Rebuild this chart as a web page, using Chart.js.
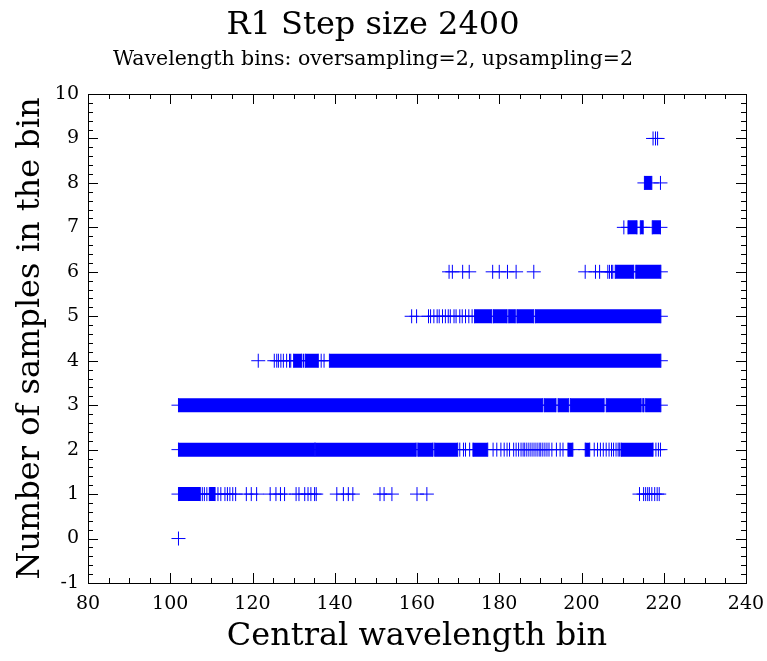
<!DOCTYPE html>
<html>
<head>
<meta charset="utf-8">
<script src="https://cdn.jsdelivr.net/npm/chart.js@4.4.1/dist/chart.umd.min.js"></script>
<style>
  body { margin: 0; background: #fff; }
  #wrap { width: 767px; height: 661px; }
</style>
</head>
<body>
<div id="wrap"><canvas id="binsChart"></canvas></div>
<script>
// x ticks / y ticks
const xTicks = [80, 100, 120, 140, 160, 180, 200, 220, 240];
const yTicks = [-1, 0, 1, 2, 3, 4, 5, 6, 7, 8, 9, 10];

// number of samples per bin (one row per count)
const counts = [0, 1, 2, 3, 4, 5, 6, 7, 8, 9];

// isolated bins
const single0 = [102.0];
const single1 = [107.8, 108.3, 108.9, 111.6, 112.3, 113.3, 113.9, 114.5, 115.2, 115.9,
  118.5, 119.7, 121.0, 124.3, 125.7, 126.8, 127.8, 130.6, 131.3, 132.7, 133.5, 134.2,
  135.1, 135.5, 140.5, 142.1, 143.3, 144.4, 151.0, 152.0, 153.9, 160.0, 162.4,
  214.1, 215.1, 215.6, 216.1, 216.5, 217.1, 217.8, 218.4, 218.9];
const single2 = [170.4, 171.3, 171.8, 172.8, 178.5, 179.4, 180.4, 181.2, 181.9, 182.5,
  183.5, 184.1, 184.7, 185.3, 185.8, 186.2, 186.7, 187.2, 187.7, 188.2, 188.7, 189.2,
  189.7, 190.1, 190.6, 191.1, 191.6, 192.1, 192.8, 193.9, 194.8, 195.5, 203.1, 203.9,
  204.6, 205.3, 206.0, 206.7, 207.3, 207.8, 208.4, 208.9, 209.2, 218.1, 218.7, 219.2];
const single3 = [];
const single4 = [121.4, 125.3, 125.9, 126.3, 126.9, 127.5, 128.3, 129.0, 129.3, 132.4,
  136.7, 137.4];
const single5 = [158.7, 159.9, 162.8, 163.3, 164.1, 164.9, 165.4, 166.2, 166.9, 167.6,
  168.1, 169.0, 169.5, 170.4, 171.0, 171.8, 172.6, 173.4];
const single6 = [167.8, 168.6, 171.1, 172.7, 178.4, 180.0, 182.0, 184.1, 188.4, 200.9,
  203.4, 204.4, 206.4, 206.8, 207.3, 207.6];
const single7 = [210.3];
const single8 = [219.2];
const single9 = [217.4, 218.0, 218.5];

// stretches where the bins are packed solid [from, to]
const runs0 = [];
const runs1 = [[102.0, 107.3], [109.5, 110.9]];
const runs2 = [[102.0, 135.1], [135.3, 159.8], [160.2, 163.9], [164.3, 169.9],
  [173.6, 177.2], [196.7, 197.9], [200.9, 202.0], [209.6, 217.4]];
const runs3 = [[102.0, 190.5], [190.9, 193.8], [194.3, 196.9], [197.3, 205.5],
  [206.0, 214.5], [214.9, 215.2], [215.6, 219.3]];
const runs4 = [[130.0, 132.0], [132.8, 136.0], [138.7, 219.3]];
const runs5 = [[174.0, 178.2], [178.6, 181.9], [182.3, 183.9], [184.3, 188.4], [188.8, 219.3]];
const runs6 = [[208.2, 212.7], [213.2, 219.3]];
const runs7 = [[211.3, 213.5], [214.3, 215.0], [217.2, 219.2]];
const runs8 = [[215.3, 217.1]];
const runs9 = [];

const singles = [single0, single1, single2, single3, single4, single5, single6, single7, single8, single9];
const runs = [runs0, runs1, runs2, runs3, runs4, runs5, runs6, runs7, runs8, runs9];

const BLUE = "#0000ff";
const FONT = "'DejaVu Serif', serif";

let datasets = [];
counts.forEach(function (c, i) {
  // solid bands
  let band = [];
  runs[i].forEach(function (r) {
    band.push({ x: r[0], y: c });
    band.push({ x: r[1], y: c });
    band.push({ x: r[1], y: null });
  });
  if (band.length) {
    datasets.push({
      type: "line",
      data: band,
      borderColor: BLUE,
      borderWidth: 14,
      borderCapStyle: "butt",
      pointRadius: 0,
      spanGaps: false,
      showLine: true,
    });
  }
  // crosses
  let pts = singles[i].map((x) => ({ x: x, y: c }));
  runs[i].forEach(function (r) {
    pts.push({ x: r[0], y: c });
    pts.push({ x: r[1], y: c });
  });
  datasets.push({
    data: pts,
    pointStyle: "cross",
    pointRadius: 7,
    pointBorderWidth: 1,
    borderColor: BLUE,
    backgroundColor: BLUE,
  });
});

// frame and inward ticks on all four sides
const framePlugin = {
  id: "frame",
  afterDatasetsDraw(chart) {
    const { ctx, chartArea: a, scales } = chart;
    const xs = scales.x, ys = scales.y;
    ctx.save();
    ctx.strokeStyle = "#000";
    ctx.lineWidth = 1;
    ctx.beginPath();
    function tickX(v, len) {
      const px = Math.round(xs.getPixelForValue(v)) + 0.5;
      ctx.moveTo(px, a.bottom); ctx.lineTo(px, a.bottom - len);
      ctx.moveTo(px, a.top); ctx.lineTo(px, a.top + len);
    }
    function tickY(v, len) {
      const py = Math.round(ys.getPixelForValue(v)) + 0.5;
      ctx.moveTo(a.left, py); ctx.lineTo(a.left + len, py);
      ctx.moveTo(a.right, py); ctx.lineTo(a.right - len, py);
    }
    for (let v = xTicks[0]; v <= xTicks[xTicks.length - 1]; v += 5) tickX(v, 5);
    xTicks.forEach((v) => tickX(v, 10));
    for (let k = 0; k <= (yTicks.length - 1) * 5; k++) tickY(yTicks[0] + k * 0.2, 5);
    yTicks.forEach((v) => tickY(v, 10));
    ctx.stroke();
    ctx.strokeRect(Math.round(a.left) + 0.5, Math.round(a.top) + 0.5,
      Math.round(a.right - a.left), Math.round(a.bottom - a.top));
    ctx.restore();
  },
};

new Chart(document.getElementById("binsChart"), {
  type: "scatter",
  data: { datasets: datasets },
  plugins: [framePlugin],
  options: {
    responsive: true,
    maintainAspectRatio: false,
    animation: false,
    layout: { padding: { left: 0, right: 21, top: 0, bottom: 0 } },
    plugins: {
      legend: { display: false },
      tooltip: { enabled: false },
      title: {
        display: true,
        text: "R1 Step size 2400",
        color: "#000",
        font: { family: FONT, size: 32, weight: "normal" },
        padding: { top: 6, bottom: 2 },
      },
      subtitle: {
        display: true,
        text: "Wavelength bins: oversampling=2, upsampling=2",
        color: "#000",
        font: { family: FONT, size: 20.5, weight: "normal" },
        padding: { top: 1, bottom: 22 },
      },
    },
    scales: {
      x: {
        type: "linear",
        min: 80,
        max: 240,
        afterBuildTicks: (s) => { s.ticks = xTicks.map((v) => ({ value: v })); },
        afterFit: (s) => { s.height = 78; s.paddingLeft = 0; s.paddingRight = 0; },
        grid: { display: false, drawTicks: false },
        border: { display: false },
        ticks: { color: "#000", padding: 10, font: { family: FONT, size: 19 } },
        title: {
          display: true,
          text: "Central wavelength bin",
          color: "#000",
          font: { family: FONT, size: 32 },
          padding: { top: 0, bottom: 5 },
        },
      },
      y: {
        type: "linear",
        min: -1,
        max: 10,
        afterBuildTicks: (s) => { s.ticks = yTicks.map((v) => ({ value: v })); },
        afterFit: (s) => { s.width = 88; },
        grid: { display: false, drawTicks: false },
        border: { display: false },
        ticks: { color: "#000", padding: 9, font: { family: FONT, size: 19 } },
        title: {
          display: true,
          text: "Number of samples in the bin",
          color: "#000",
          font: { family: FONT, size: 32 },
          padding: { top: 11, bottom: 0 },
        },
      },
    },
  },
});
</script>
</body>
</html>
